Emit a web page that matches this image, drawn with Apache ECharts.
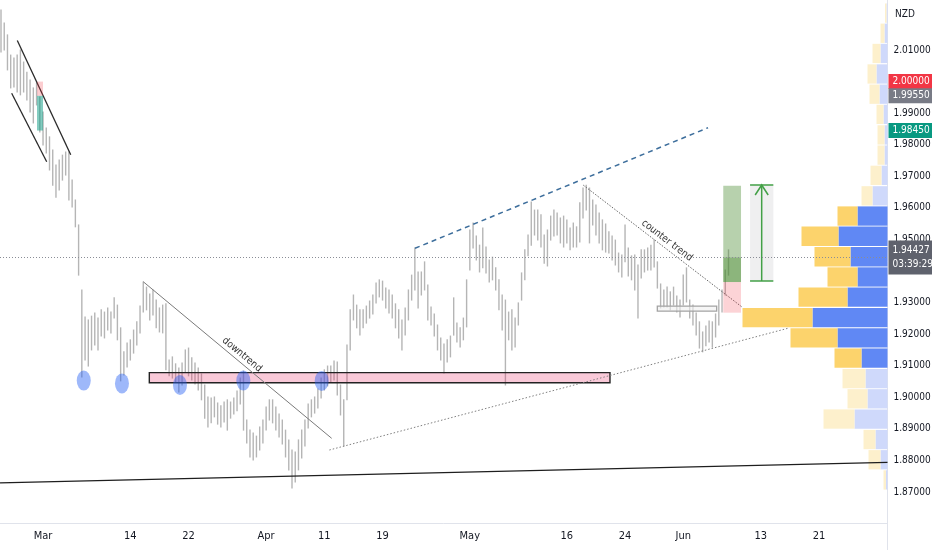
<!DOCTYPE html>
<html><head><meta charset="utf-8">
<script src="https://cdn.jsdelivr.net/npm/echarts@6/dist/echarts.min.js"></script>
<style>html,body{margin:0;padding:0;background:#fff}#c{width:932px;height:550px}</style>
</head><body><div id="c"></div>
<script>
const FONT = "'Liberation Sans Narrow','DejaVu Sans Condensed','Liberation Sans',sans-serif";

// ---- price bars (one bar every 1/3 trading day; day index 0 = Mar 1) ----
const barStartDay = -4.33;
const barsPerDay = 3;
const barHigh = [
2.0227,2.0186,2.0148,2.0084,2.0075,2.0084,2.0100,2.0062,2.0030,2.0005,
1.9980,1.9996,1.9951,1.9904,1.9853,1.9825,1.9783,1.9736,1.9752,1.9767,
1.9777,1.9777,1.9688,1.9625,1.9546,1.9340,1.9254,1.9245,1.9257,1.9267,
1.9251,1.9277,1.9270,1.9283,1.9270,1.9315,1.9292,1.9220,1.9144,1.9172,
1.9182,1.9213,1.9239,1.9289,1.9365,1.9349,1.9327,1.9340,1.9308,1.9283,
1.9292,1.9296,1.9118,1.9128,1.9106,1.9093,1.9109,1.9150,1.9156,1.9125,
1.9109,1.9093,1.9074,1.9039,1.9001,1.8998,1.9001,1.8982,1.8973,1.8985,
1.8992,1.8985,1.8998,1.9020,1.9061,1.9083,1.8928,1.8896,1.8887,1.8877,
1.8906,1.8928,1.8969,1.8992,1.8992,1.8969,1.8947,1.8928,1.8896,1.8865,
1.8833,1.8827,1.8865,1.8896,1.8928,1.8979,1.8992,1.9001,1.9026,1.9061,
1.9087,1.9099,1.9099,1.9115,1.9112,1.9039,1.8992,1.9166,1.9277,1.9324,
1.9292,1.9277,1.9277,1.9289,1.9305,1.9324,1.9362,1.9372,1.9368,1.9346,
1.9340,1.9324,1.9296,1.9277,1.9245,1.9283,1.9340,1.9387,1.9473,1.9397,
1.9397,1.9429,1.9356,1.9286,1.9264,1.9229,1.9188,1.9169,1.9182,1.9194,
1.9315,1.9235,1.9220,1.9251,1.9372,1.9530,1.9552,1.9511,1.9482,1.9536,
1.9476,1.9435,1.9444,1.9410,1.9372,1.9324,1.9308,1.9270,1.9277,1.9251,
1.9299,1.9394,1.9467,1.9514,1.9619,1.9593,1.9593,1.9578,1.9514,1.9530,
1.9574,1.9593,1.9584,1.9568,1.9574,1.9562,1.9536,1.9552,1.9540,1.9616,
1.9663,1.9672,1.9663,1.9625,1.9609,1.9584,1.9562,1.9549,1.9524,1.9511,
1.9498,1.9457,1.9451,1.9546,1.9473,1.9448,1.9451,1.9419,1.9467,1.9467,
1.9473,1.9482,1.9498,1.9429,1.9359,1.9340,1.9349,1.9334,1.9349,1.9321,
1.9308,1.9387,1.9410,1.9308,1.9292,1.9267,1.9239,1.9207,1.9226,1.9242,
1.9239,1.9264,1.9308,1.9340,1.9403,1.9467];
const barLow = [
2.0094,2.0100,2.0037,1.9980,1.9983,1.9967,1.9958,1.9967,1.9942,1.9904,
1.9869,1.9926,1.9840,1.9799,1.9774,1.9720,1.9672,1.9634,1.9657,1.9688,
1.9704,1.9625,1.9603,1.9540,1.9387,1.9064,1.9118,1.9099,1.9150,1.9166,
1.9150,1.9194,1.9188,1.9213,1.9204,1.9251,1.9182,1.9052,1.9071,1.9096,
1.9118,1.9140,1.9166,1.9204,1.9270,1.9277,1.9245,1.9261,1.9220,1.9207,
1.9204,1.9087,1.9068,1.9061,1.9049,1.9017,1.9039,1.9080,1.9068,1.9055,
1.9042,1.9023,1.8992,1.8934,1.8906,1.8919,1.8938,1.8915,1.8906,1.8922,
1.8896,1.8934,1.8947,1.8957,1.8979,1.8896,1.8855,1.8811,1.8801,1.8811,
1.8833,1.8855,1.8896,1.8928,1.8919,1.8896,1.8874,1.8852,1.8811,1.8770,
1.8713,1.8732,1.8770,1.8808,1.8846,1.8903,1.8938,1.8950,1.8966,1.8998,
1.9023,1.9036,1.9049,1.9055,1.9007,1.8944,1.8846,1.8992,1.9150,1.9245,
1.9220,1.9197,1.9220,1.9235,1.9251,1.9264,1.9299,1.9318,1.9308,1.9283,
1.9267,1.9251,1.9220,1.9188,1.9150,1.9197,1.9245,1.9308,1.9340,1.9283,
1.9324,1.9340,1.9245,1.9229,1.9194,1.9150,1.9118,1.9077,1.9112,1.9128,
1.9197,1.9175,1.9159,1.9182,1.9223,1.9403,1.9473,1.9435,1.9397,1.9410,
1.9394,1.9365,1.9372,1.9340,1.9277,1.9213,1.9039,1.9182,1.9150,1.9159,
1.9229,1.9308,1.9372,1.9448,1.9482,1.9514,1.9498,1.9476,1.9425,1.9416,
1.9498,1.9511,1.9514,1.9489,1.9476,1.9489,1.9467,1.9476,1.9476,1.9492,
1.9568,1.9593,1.9489,1.9546,1.9514,1.9489,1.9467,1.9460,1.9457,1.9435,
1.9419,1.9397,1.9381,1.9429,1.9384,1.9372,1.9340,1.9251,1.9378,1.9397,
1.9403,1.9403,1.9413,1.9346,1.9283,1.9286,1.9286,1.9277,1.9292,1.9270,
1.9254,1.9292,1.9302,1.9251,1.9229,1.9197,1.9156,1.9144,1.9163,1.9175,
1.9159,1.9191,1.9229,1.9270,1.9324,1.9387];
const lastPrice = 1.94427;
const barCountdown = '03:39:29';

// ---- axes ----
const dayTickIdx = [0, 9, 15, 23, 29, 35, 44, 54, 60, 66, 74, 80];
const dayTickLabels = ['Mar', '14', '22', 'Apr', '11', '19', 'May', '16', '24', 'Jun', '13', '21'];
const priceTicks = [1.87, 1.88, 1.89, 1.90, 1.91, 1.92, 1.93, 1.95, 1.96, 1.97, 1.98, 1.99, 2.01];
const currencyLabel = 'NZD';

// ---- volume profile (rows bottom -> top) ----
const vpRowLow = [1.8706,1.8770,1.8834,1.8899,1.8963,1.9027,1.9092,1.9156,1.9220,1.9285,1.9349,1.9413,
                  1.9478,1.9542,1.9606,1.9671,1.9735,1.9799,1.9864,1.9928,1.9992,2.0057,2.0121,2.0185];
const vpRowHeight = 0.00643;
const vpUp   = [1.5, 7, 12, 33, 20, 22, 26, 50, 75, 40, 30, 37, 49, 30, 15, 6, 3, 3, 4, 8, 11, 7, 3, 1];
const vpDown = [2.5, 12, 12, 31, 20, 23, 27, 47, 70, 49, 30, 36, 37, 20, 11, 11, 7, 7, 7, 10, 9, 8, 4, 1.5];
const valueAreaLow = 1.9092, valueAreaHigh = 1.9606;

// ---- drawings (day index, price) ----
const channelUpper = [[-2.65, 2.0130], [2.86, 1.9768]];
const channelLower = [[-3.23, 1.9963], [0.38, 1.9746]];
const shortPos = {from: -0.62, to: 0.0, entry: 1.9955, stop: 2.0000, target: 1.9845};
const touchDays = [4.20, 8.14, 14.12, 20.65, 28.73];
const touchPrices = [1.9053, 1.9044, 1.9039, 1.9053, 1.9052];
const supportZone = {from: 10.96, to: 58.45, top: 1.9078, bottom: 1.9046};
const downtrend = [[10.34, 1.9366], [29.76, 1.8870]];
const downtrendText = 'downtrend';
const counterTrend = [[55.70, 1.9672], [72.06, 1.9286]];
const counterTrendText = 'counter trend';
const risingSupport = [[29.52, 1.8833], [76.84, 1.9219]];
const risingResistance = [[38.35, 1.9472], [68.56, 1.9854]];
const longTrendline = [[-4.43, 1.8729], [87.06, 1.8794]];
const consolidationBox = {from: 63.33, to: 69.45, top: 1.9289, bottom: 1.9273};
const longPos = {from: 70.13, to: 71.96, entry: 1.9365, stop: 1.9268, target: 1.9670};
const priceRange = {from: 72.89, to: 75.29, top: 1.96725, bottom: 1.93684};
const badgePrices = [2.0000, 1.9955, 1.9845];
const badgeColors = ['#f23645', '#787b86', '#089981'];

// ---------------------------------------------------------------
const chart = echarts.init(document.getElementById('c'), null, {renderer: 'canvas'});

const barData = barHigh.map((h, i) => [barStartDay + i / barsPerDay, h, barLow[i]]);
const vpData = vpRowLow.map((lo, i) => [lo, lo + vpRowHeight, vpUp[i], vpDown[i]]);

function renderBar(params, api) {
  const d = api.value(0);
  const a = api.coord([d, api.value(1)]);
  const b = api.coord([d, api.value(2)]);
  return {type: 'line', shape: {x1: a[0], y1: a[1] - 0.5, x2: b[0], y2: b[1] + 0.5},
          style: {stroke: '#b5b5b5', lineWidth: 1.4}};
}

function renderVP(params, api) {
  const lo = api.value(0), hi = api.value(1), up = api.value(2), dn = api.value(3);
  const top = api.coord([0, hi]), bot = api.coord([0, lo]);
  const x0 = top[0];
  const xUp = api.coord([up, lo])[0];
  const xAll = api.coord([up + dn, lo])[0];
  const inVA = lo >= valueAreaLow - 1e-4 && hi <= valueAreaHigh + 1e-4;
  const y = top[1] + 0.5, h = bot[1] - top[1] - 1;
  return {type: 'group', children: [
    {type: 'rect', shape: {x: xUp, y: y, width: x0 - xUp, height: h},
     style: {fill: inVA ? '#6088f4' : '#cfd9fb'}},
    {type: 'rect', shape: {x: xAll, y: y, width: xUp - xAll, height: h},
     style: {fill: inVA ? '#fcd36c' : '#fdf0cc'}}
  ]};
}

function renderDrawings(params, api) {
  const C = (d, p) => api.coord([d, p]);
  const kids = [];
  const seg = (a, b, style) => {
    const p = C(a[0], a[1]), q = C(b[0], b[1]);
    kids.push({type: 'line', shape: {x1: p[0], y1: p[1], x2: q[0], y2: q[1]}, style: style});
  };
  const box = (d1, d2, p1, p2, style) => {
    const a = C(d1, p1), b = C(d2, p2);
    kids.push({type: 'rect', shape: {x: Math.min(a[0], b[0]), y: Math.min(a[1], b[1]),
      width: Math.abs(b[0] - a[0]), height: Math.abs(b[1] - a[1])}, style: style});
  };
  const lineText = (a, b, text) => {
    const p = C(a[0], a[1]), q = C(b[0], b[1]);
    const ang = Math.atan2(q[1] - p[1], q[0] - p[0]);
    const mx = (p[0] + q[0]) / 2, my = (p[1] + q[1]) / 2, off = 7;
    kids.push({type: 'text', x: mx + Math.sin(ang) * off, y: my - Math.cos(ang) * off, rotation: -ang,
      style: {text: text, fill: '#333', fontSize: 10, fontFamily: FONT, align: 'center', verticalAlign: 'middle'}});
  };

  seg(longTrendline[0], longTrendline[1], {stroke: '#1e1e1e', lineWidth: 1.4});
  box(supportZone.from, supportZone.to, supportZone.top, supportZone.bottom,
      {fill: 'rgba(230,40,100,0.25)', stroke: '#222', lineWidth: 1.4});
  seg(channelUpper[0], channelUpper[1], {stroke: '#2a2a2a', lineWidth: 1.3});
  seg(channelLower[0], channelLower[1], {stroke: '#2a2a2a', lineWidth: 1.3});
  box(shortPos.from, shortPos.to, shortPos.entry, shortPos.stop, {fill: 'rgba(242,54,69,0.25)'});
  box(shortPos.from, shortPos.to, shortPos.entry, shortPos.target, {fill: 'rgba(8,153,129,0.5)'});
  touchDays.forEach((d, i) => {
    const c = C(d, touchPrices[i]);
    kids.push({type: 'circle', x: c[0], y: c[1], scaleX: 0.7, shape: {cx: 0, cy: 0, r: 10},
      style: {fill: 'rgba(41,98,245,0.45)'}});
  });
  seg(downtrend[0], downtrend[1], {stroke: '#7a7a7a', lineWidth: 1});
  lineText(downtrend[0], downtrend[1], downtrendText);
  seg(risingSupport[0], risingSupport[1], {stroke: '#808080', lineWidth: 1, lineDash: [1.5, 2]});
  seg(risingResistance[0], risingResistance[1], {stroke: '#3d6e9c', lineWidth: 1.5, lineDash: [5, 4]});
  seg(counterTrend[0], counterTrend[1], {stroke: '#666', lineWidth: 1, lineDash: [1.5, 1.5]});
  lineText(counterTrend[0], counterTrend[1], counterTrendText);
  box(consolidationBox.from, consolidationBox.to, consolidationBox.top, consolidationBox.bottom,
      {fill: 'rgba(240,240,240,0.6)', stroke: '#a3a3a3', lineWidth: 1.3});
  box(longPos.from, longPos.to, longPos.entry, longPos.target, {fill: 'rgba(76,140,50,0.4)'});
  box(longPos.from, longPos.to, longPos.entry, lastPrice, {fill: 'rgba(76,140,50,0.4)'});
  box(longPos.from, longPos.to, longPos.entry, longPos.stop, {fill: 'rgba(242,54,69,0.22)'});
  box(priceRange.from, priceRange.to, priceRange.top, priceRange.bottom, {fill: 'rgba(120,123,134,0.12)'});
  const mid = (priceRange.from + priceRange.to) / 2;
  const t = C(mid, priceRange.top), b = C(mid, priceRange.bottom);
  const l = C(priceRange.from, priceRange.top)[0], r = C(priceRange.to, priceRange.top)[0];
  const g = {stroke: '#43a047', lineWidth: 1.5};
  kids.push({type: 'line', shape: {x1: t[0], y1: t[1], x2: b[0], y2: b[1]}, style: g});
  kids.push({type: 'line', shape: {x1: l, y1: t[1], x2: r, y2: t[1]}, style: g});
  kids.push({type: 'line', shape: {x1: l, y1: b[1], x2: r, y2: b[1]}, style: g});
  kids.push({type: 'polyline', shape: {points: [[t[0] - 6.5, t[1] + 10], [t[0], t[1]], [t[0] + 6.5, t[1] + 10]]},
    style: {stroke: '#43a047', lineWidth: 1.5, fill: null}});
  return {type: 'group', children: kids};
}

const badgeLabel = (text, color) => ({
  show: true, position: 'end', distance: 1, formatter: text, color: '#fff',
  backgroundColor: color, padding: [2, 4, 1, 4], width: 36, fontSize: 10, lineHeight: 12,
  fontFamily: FONT, align: 'left'
});

const markData = [
  {yAxis: lastPrice, lineStyle: {type: [1, 2], color: '#8a8d96', width: 1},
   label: Object.assign(badgeLabel(lastPrice.toFixed(5) + '\n' + barCountdown, '#5f626d'),
                        {lineHeight: 14, padding: [3, 4, 3, 4]})}
].concat(badgePrices.map((p, i) => ({
  yAxis: p, lineStyle: {color: 'rgba(0,0,0,0)', width: 1, type: 'solid'},
  label: badgeLabel(p.toFixed(5), badgeColors[i])
})));

chart.setOption({
  animation: false,
  backgroundColor: '#ffffff',
  grid: {left: 0, right: 44.5, top: 0, bottom: 27, containLabel: false, outerBoundsMode: 'none'},
  xAxis: [{
    type: 'value', min: -4.433, max: 87.06,
    axisLine: {show: true, onZero: false, lineStyle: {color: '#e0e3eb'}},
    axisTick: {show: false}, splitLine: {show: false},
    axisLabel: {customValues: dayTickIdx, color: '#131722', fontSize: 11, fontFamily: FONT, margin: 8,
      formatter: v => { const k = dayTickIdx.indexOf(Math.round(v)); return k >= 0 ? dayTickLabels[k] : ''; }}
  }, {
    type: 'value', min: 0, max: 887.5, inverse: true, show: false
  }],
  yAxis: [{
    type: 'value', position: 'right', min: 1.86018, max: 2.02585, scale: true,
    axisLine: {show: true, onZero: false, lineStyle: {color: '#e0e3eb'}},
    axisTick: {show: false}, splitLine: {show: false},
    axisLabel: {customValues: priceTicks, color: '#131722', fontSize: 10, fontFamily: FONT, margin: 6,
      formatter: v => v.toFixed(5)}
  }],
  graphic: [
    {type: 'text', left: 895, top: 9, style: {text: currencyLabel, fill: '#131722', fontSize: 10, fontFamily: FONT}},
    {type: 'line', shape: {x1: 887.5, y1: 523, x2: 887.5, y2: 550}, style: {stroke: '#e0e3eb', lineWidth: 1}}
  ],
  series: [
    {type: 'custom', name: 'vp', xAxisIndex: 1, yAxisIndex: 0, z: 1, silent: true,
     data: vpData, encode: {x: 2, y: 0}, renderItem: renderVP},
    {type: 'custom', name: 'bars', xAxisIndex: 0, yAxisIndex: 0, z: 2, silent: true,
     data: barData, encode: {x: 0, y: [1, 2]}, renderItem: renderBar,
     markLine: {symbol: ['none', 'none'], silent: true, animation: false, precision: 5, data: markData}},
    {type: 'custom', name: 'drawings', xAxisIndex: 0, yAxisIndex: 0, z: 3, silent: true,
     data: [[0, 1.9]], encode: {x: 0, y: 1}, renderItem: renderDrawings}
  ]
});
</script>
</body></html>
